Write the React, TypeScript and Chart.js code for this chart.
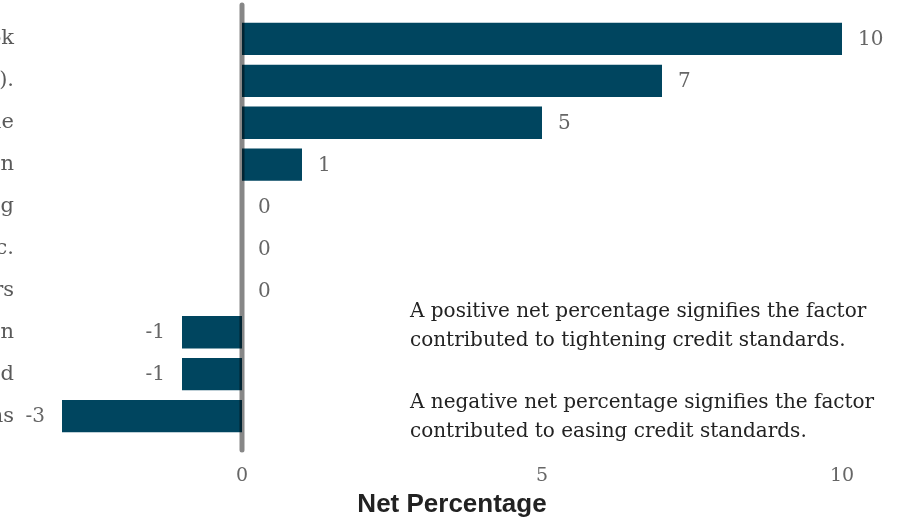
import { useEffect, useRef } from "react";
import { Chart, registerables } from "chart.js";

Chart.register(...registerables);

const categories = [
  "Less favorable or more uncertain economic outlook",
  "Worsening of industry-specific problems (e.g., CRE).",
  "Less favorable or more uncertain outlook for collateral value",
  "Deterioration in your bank's current or expected capital position",
  "Reduced tolerance for risk in commercial real estate lending",
  "Increased concerns about legislative changes, supervisory actions, etc.",
  "Less aggressive competition from other banks or nonbank lenders",
  "Deterioration in your bank's current or expected liquidity position",
  "Borrowers' credit quality worsened",
  "Less liquidity in the secondary market for these loans",
];
const netPercentages = [10, 7, 5, 1, 0, 0, 0, -1, -1, -3];
const xTickValues = [0, 5, 10];
const xAxisTitle = "Net Percentage";
const noteLines = [
  "A positive net percentage signifies the factor",
  "contributed to tightening credit standards.",
  "",
  "A negative net percentage signifies the factor",
  "contributed to easing credit standards.",
];

const OFFSET = 538;
const W = 912 + OFFSET;
const H = 520;
const SERIF = "'DejaVu Serif', Georgia, serif";

export default function App() {
  const ref = useRef<HTMLCanvasElement | null>(null);

  useEffect(() => {
    document.body.style.margin = "0";
    document.body.style.overflow = "hidden";
    const canvas = ref.current;
    if (!canvas) return;

    const zeroLine = {
      id: "zeroLine",
      afterDatasetsDraw(chart: any) {
        const { ctx, chartArea, scales } = chart;
        const x = scales.x.getPixelForValue(0);
        ctx.save();
        ctx.strokeStyle = "rgba(0,0,0,0.47)";
        ctx.lineWidth = 5;
        ctx.lineCap = "round";
        ctx.beginPath();
        ctx.moveTo(x, chartArea.top - 13);
        ctx.lineTo(x, chartArea.bottom + 13);
        ctx.stroke();
        ctx.restore();
      },
    };

    const valueLabels = {
      id: "valueLabels",
      afterDatasetsDraw(chart: any) {
        const { ctx, scales } = chart;
        const meta = chart.getDatasetMeta(0);
        ctx.save();
        ctx.font = `20px ${SERIF}`;
        ctx.fillStyle = "#666666";
        ctx.textBaseline = "middle";
        netPercentages.forEach((v, i) => {
          const bar = meta.data[i];
          const xEnd = scales.x.getPixelForValue(v);
          if (v >= 0) {
            ctx.textAlign = "left";
            ctx.fillText(String(v), xEnd + 16, bar.y + 1);
          } else {
            ctx.textAlign = "right";
            ctx.fillText(String(v), xEnd - 17, bar.y + 1);
          }
        });
        ctx.restore();
      },
    };

    const notes = {
      id: "notes",
      afterDraw(chart: any) {
        const { ctx, chartArea } = chart;
        ctx.save();
        ctx.font = `20px ${SERIF}`;
        ctx.fillStyle = "#222222";
        ctx.textAlign = "left";
        ctx.textBaseline = "middle";
        const x = chartArea.right - 432;
        let y = chartArea.top + 294;
        noteLines.forEach((line) => {
          if (line) ctx.fillText(line, x, y);
          y += line ? 29 : 33;
        });
        ctx.restore();
      },
    };

    const chart = new Chart(canvas, {
      type: "bar",
      data: {
        labels: categories,
        datasets: [
          {
            data: netPercentages,
            backgroundColor: "#00455f",
            borderWidth: 0,
            barPercentage: 0.77,
            categoryPercentage: 1,
          },
        ],
      },
      options: {
        indexAxis: "y",
        responsive: false,
        animation: false,
        layout: { padding: { top: 18, right: 70, bottom: 0, left: 0 } },
        plugins: {
          legend: { display: false },
          tooltip: { enabled: false },
        },
        scales: {
          x: {
            min: -3,
            max: 10,
            grid: { display: false, drawTicks: false },
            border: { display: false },
            afterFit(scale: any) {
              scale.height = 83;
            },
            afterBuildTicks(scale: any) {
              scale.ticks = xTickValues.map((v) => ({ value: v }));
            },
            ticks: {
              color: "#666666",
              font: { family: SERIF, size: 19 },
              padding: 28,
              maxRotation: 0,
            },
            title: {
              display: true,
              text: xAxisTitle,
              color: "#222222",
              font: { family: "'Liberation Sans', Arial, sans-serif", size: 26, weight: "bold" },
              padding: { top: 0, bottom: 0 },
            },
          },
          y: {
            grid: { display: false, drawTicks: false },
            border: { display: false },
            afterFit(scale: any) {
              scale.width = 600;
              scale.paddingTop = 0;
              scale.paddingBottom = 0;
            },
            ticks: {
              color: "#5a5a5a",
              font: { family: SERIF, size: 21 },
              padding: 48,
              autoSkip: false,
            },
          },
        },
      },
      plugins: [zeroLine, valueLabels, notes],
    } as any);

    return () => chart.destroy();
  }, []);

  return (
    <div style={{ position: "relative", left: -OFFSET, width: W, height: H }}>
      <canvas ref={ref} width={W} height={H} style={{ display: "block", width: W, height: H }} />
    </div>
  );
}
